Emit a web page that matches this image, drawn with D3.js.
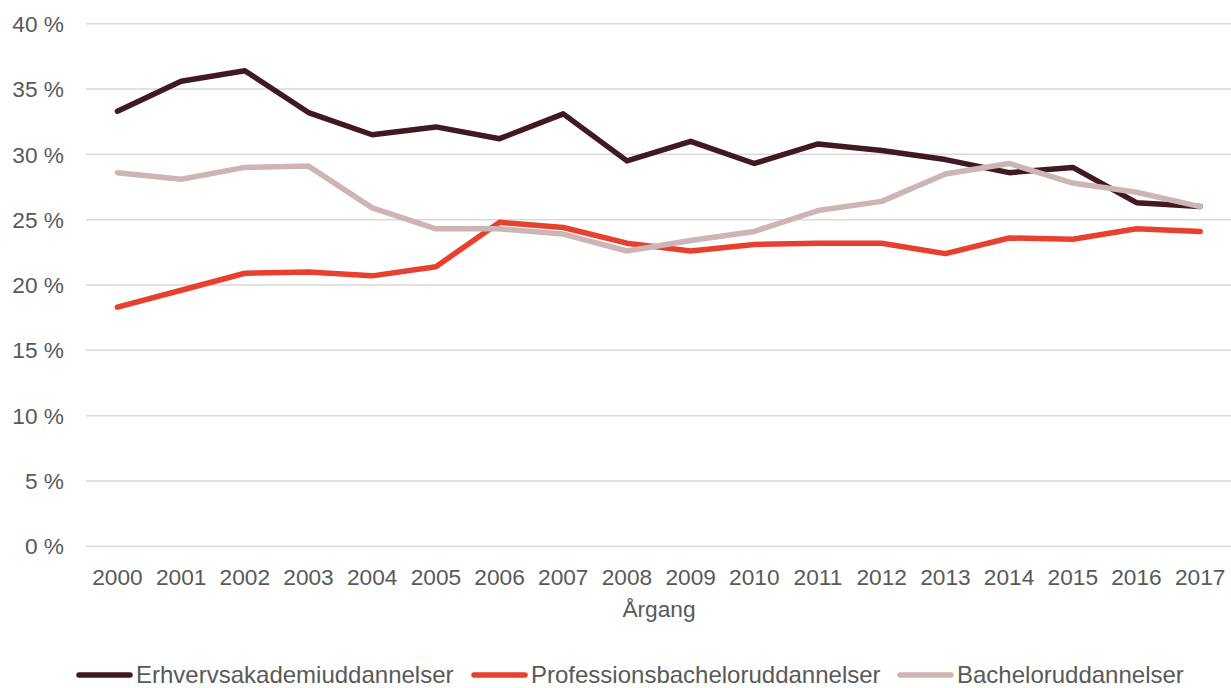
<!DOCTYPE html>
<html><head><meta charset="utf-8">
<script src="https://cdn.jsdelivr.net/npm/d3@7"></script>
<style>body{margin:0;background:#fff}svg{display:block}</style>
</head><body>
<svg id="c" width="1231" height="688"></svg>
<script>
const years = ["2000","2001","2002","2003","2004","2005","2006","2007","2008","2009","2010","2011","2012","2013","2014","2015","2016","2017"];
const erhverv = [33.3,35.6,36.4,33.2,31.5,32.1,31.2,33.1,29.5,31.0,29.3,30.8,30.3,29.6,28.6,29.0,26.3,26.0];
const profbach = [18.3,19.6,20.9,21.0,20.7,21.4,24.8,24.4,23.2,22.6,23.1,23.2,23.2,22.4,23.6,23.5,24.3,24.1];
const bachelor = [28.6,28.1,29.0,29.1,25.9,24.3,24.3,23.9,22.6,23.4,24.1,25.7,26.4,28.5,29.3,27.8,27.1,26.0];
const yTicks = [0,5,10,15,20,25,30,35,40];
const seriesNames = ["Erhvervsakademiuddannelser","Professionsbacheloruddannelser","Bacheloruddannelser"];
const colors = ["#401a22","#e8402e","#cdb4b5"];

const svg = d3.select("#c");
const font = "'Liberation Sans', Arial, sans-serif";
const x = d3.scaleBand().domain(years).range([85.6, 1232]);
const y = d3.scaleLinear().domain([0,40]).range([546.3, 23.7]);

// gridlines
svg.append("g").selectAll("line").data(yTicks).join("line")
  .attr("x1", 86).attr("x2", 1231)
  .attr("y1", d => y(d)).attr("y2", d => y(d))
  .attr("stroke", "#d9d9d9").attr("stroke-width", 1.5);

// y labels
svg.append("g").selectAll("text").data(yTicks).join("text")
  .attr("x", 64).attr("y", d => y(d)).attr("dy", "0.36em")
  .attr("text-anchor", "end").attr("font-family", font).attr("font-size", 22.7)
  .attr("fill", "#595959").text(d => d + " %");

// x labels
svg.append("g").selectAll("text").data(years).join("text")
  .attr("x", d => x(d) + x.bandwidth()/2).attr("y", 584.5)
  .attr("text-anchor", "middle").attr("font-family", font).attr("font-size", 22.7)
  .attr("fill", "#595959").text(d => d);

svg.append("text").attr("x", 659).attr("y", 617)
  .attr("text-anchor", "middle").attr("font-family", font).attr("font-size", 22.7)
  .attr("fill", "#595959").text("Årgang");

const line = d3.line().x((d,i) => x(years[i]) + x.bandwidth()/2).y(d => y(d));
[erhverv, profbach, bachelor].forEach((s, k) => {
  svg.append("path").datum(s).attr("d", line).attr("fill", "none")
    .attr("stroke", colors[k]).attr("stroke-width", 5.5)
    .attr("stroke-linejoin", "round").attr("stroke-linecap", "round");
});

// legend
const legX = [77, 472, 898];
seriesNames.forEach((n, k) => {
  svg.append("line").attr("x1", legX[k] + 2).attr("x2", legX[k] + 53)
    .attr("y1", 675).attr("y2", 675).attr("stroke", colors[k])
    .attr("stroke-width", 5.5).attr("stroke-linecap", "round");
  svg.append("text").attr("x", legX[k] + 59).attr("y", 682.5)
    .attr("font-family", font).attr("font-size", 24).attr("fill", "#595959").text(n);
});
</script>
</body></html>
